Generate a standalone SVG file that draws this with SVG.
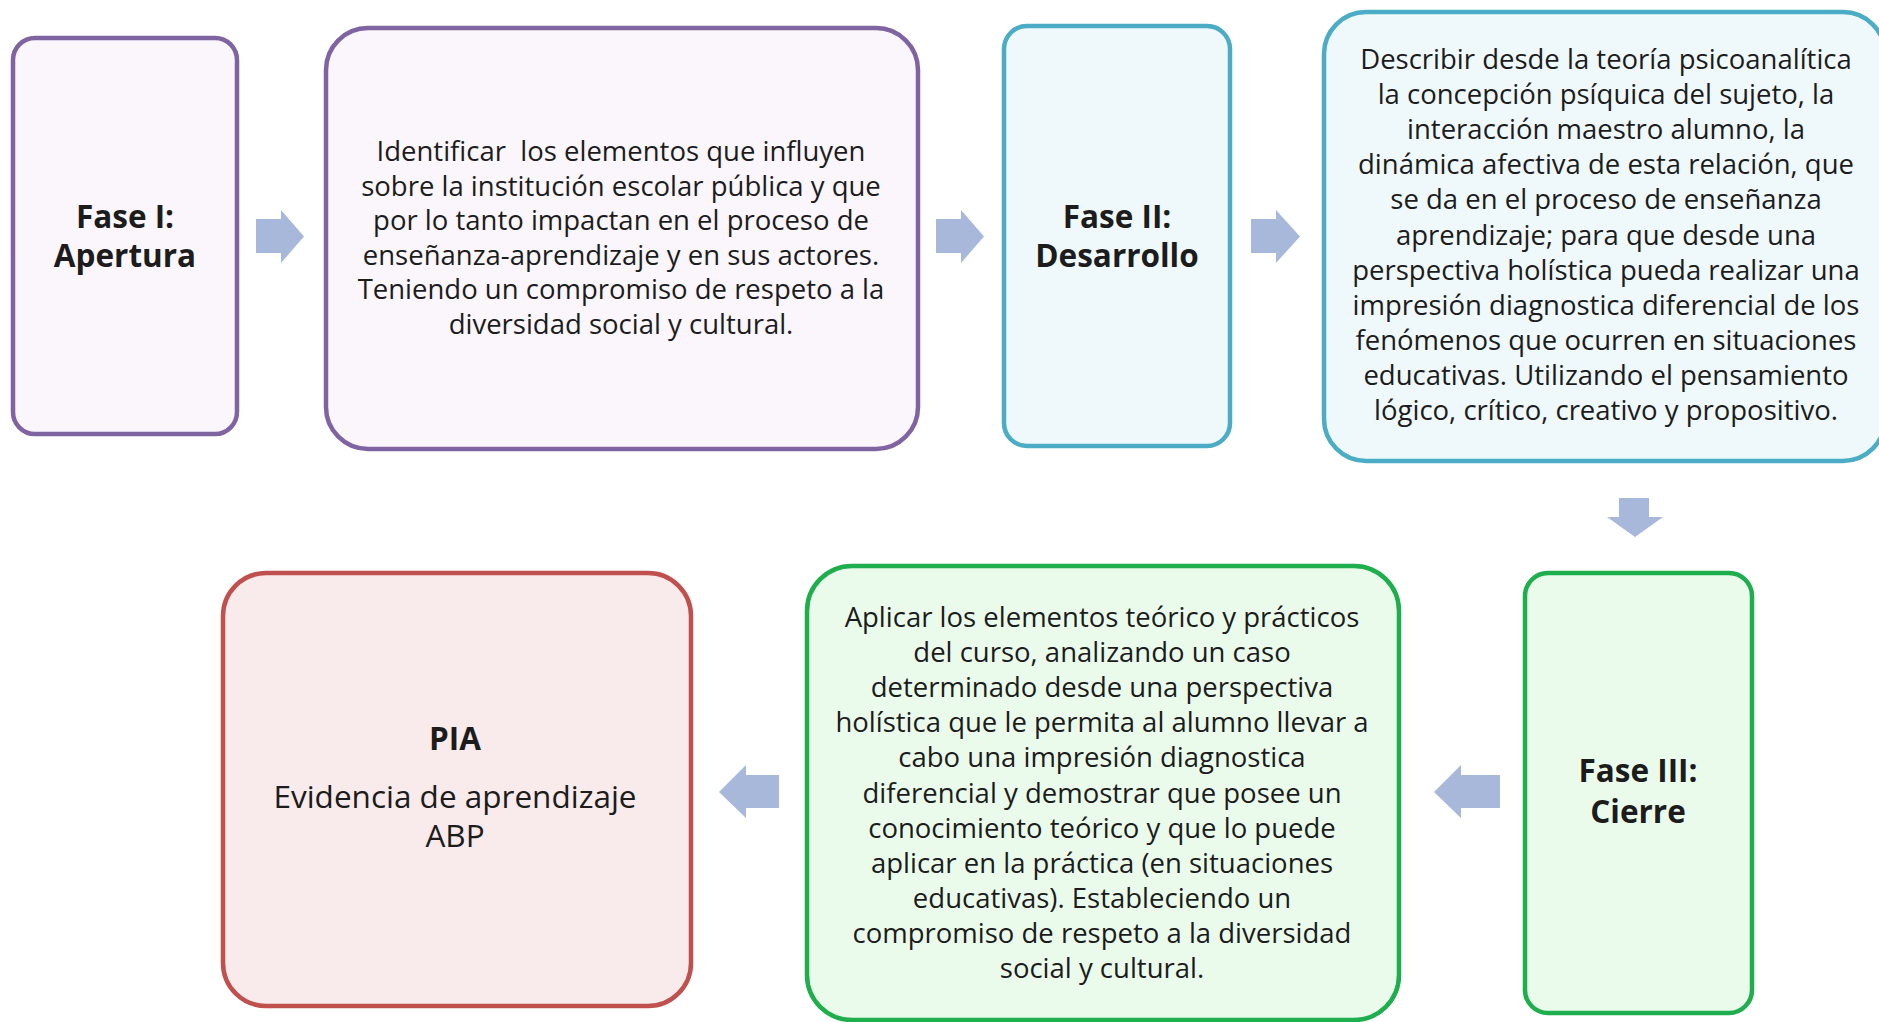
<svg xmlns="http://www.w3.org/2000/svg" width="1879" height="1022" viewBox="0 0 1879 1022">
<style>
.box{stroke-width:4.5}
.p{fill:#FAF6FC;stroke:#8064A2}
.b{fill:#EFF8FB;stroke:#4BACC6}
.g{fill:#EAFBEB;stroke:#1FAE4D}
.r{fill:#F9EBEB;stroke:#C0504D}
.arr{fill:#A7B8DB}
text{font-family:"Open Sans","Noto Sans","Liberation Sans",sans-serif;fill:#1C1C1C;text-anchor:middle}
.t{font-size:27.5px}
.h{font-size:31.5px;font-weight:bold}
.e{font-size:31.5px}
</style>
<rect width="1879" height="1022" fill="#FFFFFF"/>
<g id="connectors">
<polygon class="arr" points="256,219 281,219 281,210 304,236.5 281,263 281,253 256,253"/>
<polygon class="arr" points="936,219 961,219 961,210 984,236.5 961,263 961,253 936,253"/>
<polygon class="arr" points="1251,219 1276,219 1276,210 1300,236.5 1276,263 1276,253 1251,253"/>
<polygon class="arr" points="1619,498 1649,498 1649,517 1663,517 1635,537 1607,517 1619,517"/>
<polygon class="arr" points="1434,792 1461,765 1461,775 1500,775 1500,808 1461,808 1461,818"/>
<polygon class="arr" points="719,792 746,765 746,775 779,775 779,808 746,808 746,818"/>
</g>
<g id="fase1">
<rect class="box p" x="13" y="38" width="224" height="396" rx="22"/>
<text class="h" x="125" y="228">Fase I:</text>
<text class="h" x="125" y="267">Apertura</text>
</g>
<g id="apertura-texto">
<rect class="box p" x="326" y="28" width="592" height="421" rx="42"/>
<text class="t" x="621" y="161">Identificar&#160; los elementos que influyen</text>
<text class="t" x="621" y="195.6">sobre la institución escolar pública y que</text>
<text class="t" x="621" y="230.2">por lo tanto impactan en el proceso de</text>
<text class="t" x="621" y="264.8">enseñanza-aprendizaje y en sus actores.</text>
<text class="t" x="621" y="299.4">Teniendo un compromiso de respeto a la</text>
<text class="t" x="621" y="334">diversidad social y cultural.</text>
</g>
<g id="fase2">
<rect class="box b" x="1004" y="26" width="226" height="420" rx="23"/>
<text class="h" x="1117" y="228">Fase II:</text>
<text class="h" x="1117" y="267">Desarrollo</text>
</g>
<g id="desarrollo-texto">
<rect class="box b" x="1324" y="12" width="561" height="449" rx="42"/>
<text class="t" x="1606" y="69">Describir desde la teoría psicoanalítica</text>
<text class="t" x="1606" y="104.1">la concepción psíquica del sujeto, la</text>
<text class="t" x="1606" y="139.2">interacción maestro alumno, la</text>
<text class="t" x="1606" y="174.3">dinámica afectiva de esta relación, que</text>
<text class="t" x="1606" y="209.4">se da en el proceso de enseñanza</text>
<text class="t" x="1606" y="244.5">aprendizaje; para que desde una</text>
<text class="t" x="1606" y="279.6">perspectiva holística pueda realizar una</text>
<text class="t" x="1606" y="314.7">impresión diagnostica diferencial de los</text>
<text class="t" x="1606" y="349.8">fenómenos que ocurren en situaciones</text>
<text class="t" x="1606" y="384.9">educativas. Utilizando el pensamiento</text>
<text class="t" x="1606" y="420">lógico, crítico, creativo y propositivo.</text>
</g>
<g id="fase3">
<rect class="box g" x="1525" y="573" width="227" height="440" rx="23"/>
<text class="h" x="1638" y="782">Fase III:</text>
<text class="h" x="1638" y="823">Cierre</text>
</g>
<g id="cierre-texto">
<rect class="box g" x="807" y="566" width="592" height="454" rx="45"/>
<text class="t" x="1102" y="627">Aplicar los elementos teórico y prácticos</text>
<text class="t" x="1102" y="662.1">del curso, analizando un caso</text>
<text class="t" x="1102" y="697.2">determinado desde una perspectiva</text>
<text class="t" x="1102" y="732.3">holística que le permita al alumno llevar a</text>
<text class="t" x="1102" y="767.4">cabo una impresión diagnostica</text>
<text class="t" x="1102" y="802.5">diferencial y demostrar que posee un</text>
<text class="t" x="1102" y="837.6">conocimiento teórico y que lo puede</text>
<text class="t" x="1102" y="872.7">aplicar en la práctica (en situaciones</text>
<text class="t" x="1102" y="907.8">educativas). Estableciendo un</text>
<text class="t" x="1102" y="942.9">compromiso de respeto a la diversidad</text>
<text class="t" x="1102" y="978">social y cultural.</text>
</g>
<g id="pia">
<rect class="box r" x="223" y="573" width="468" height="433" rx="43"/>
<text class="h" x="455" y="750">PIA</text>
<text class="e" x="455" y="808">Evidencia de aprendizaje</text>
<text class="e" x="455" y="847">ABP</text>
</g>
</svg>
